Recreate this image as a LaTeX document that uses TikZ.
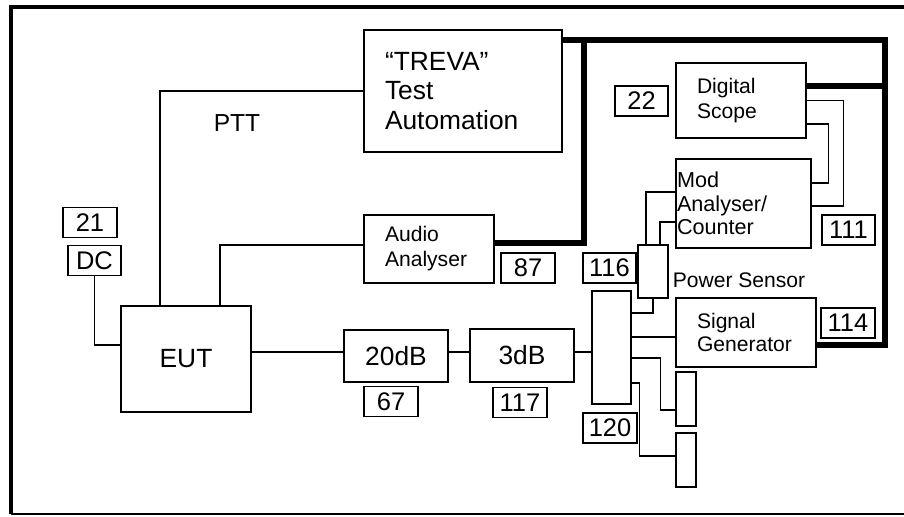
\documentclass[tikz,border=0pt]{standalone}
\usepackage{fontspec}
\setmainfont{Liberation Sans}
\begin{document}
\begin{tikzpicture}[line width=0.8pt,
  box/.style={draw,rectangle,inner sep=0pt},
  txtbox/.style={draw,rectangle,align=left,inner ysep=0pt,inner xsep=0.42cm},
  tag/.style={draw,rectangle,inner sep=0pt,minimum width=1.08cm,minimum height=0.6cm,font=\fontsize{14.5}{16}\selectfont},
  bus/.style={line width=3.2pt,line join=miter}]
  \useasboundingbox (0,0) rectangle (18.08,10.32);
  \draw[line width=2pt,line join=miter] (0.22,0.04) -- (0.22,10.18) -- (18.08,10.18);
  \draw (0.22,0.04) -- (18.08,0.04);

  \node[txtbox,text width=3.12cm,minimum height=2.44cm,font=\fontsize{15}{16.7}\selectfont] (treva) at (9.26,8.50) {“TREVA”\\Test\\Automation};
  \node[txtbox,text width=1.76cm,minimum height=1.36cm,font=\fontsize{12}{14.2}\selectfont] (audio) at (8.58,5.34) {Audio\\Analyser};
  \node[tag] (tag87) at (10.56,4.96) {87};
  \node[font=\fontsize{14}{16}\selectfont] (ptt) at (4.74,7.86) {PTT};

  \node[box,minimum width=2.6cm,minimum height=2.12cm,font=\fontsize{15}{17}\selectfont] (eut) at (3.72,3.14) {EUT};
  \node[tag] (tag21) at (1.80,5.87) {21};
  \node[tag,minimum width=1.06cm] (dc) at (1.89,5.11) {DC};

  \node[box,minimum width=2.08cm,minimum height=1.04cm,font=\fontsize{15}{17}\selectfont] (att20) at (7.92,3.20) {20dB};
  \node[tag] (tag67) at (7.82,2.29) {67};
  \node[box,minimum width=2.08cm,minimum height=1.06cm,font=\fontsize{15}{17}\selectfont] (att3) at (10.44,3.21) {3dB};
  \node[tag] (tag117) at (10.40,2.27) {117};

  \node[box,minimum width=0.78cm,minimum height=2.26cm] (split) at (12.23,3.37) {};
  \node[tag] (tag120) at (12.20,1.76) {120};
  \node[box,minimum width=0.6cm,minimum height=1.06cm] (sensor) at (13.06,4.89) {};
  \node[tag,minimum width=1.06cm] (tag116) at (12.19,4.96) {116};
  \node[font=\fontsize{12}{14}\selectfont] (pslabel) at (14.78,4.72) {Power Sensor};
  \node[box,minimum width=0.4cm,minimum height=1.08cm] (loadA) at (13.72,2.34) {};
  \node[box,minimum width=0.4cm,minimum height=1.08cm] (loadB) at (13.72,1.12) {};

  \node[txtbox,text width=1.96cm,minimum height=1.38cm,font=\fontsize{12}{13.6}\selectfont] (siggen) at (14.92,3.67) {Signal\\Generator};
  \node[tag] (tag114) at (16.96,3.86) {114};
  \node[txtbox,text width=1.76cm,minimum height=1.5cm,font=\fontsize{12}{14.2}\selectfont] (scope) at (14.82,8.31) {Digital\\Scope};
  \node[tag,minimum width=1.06cm] (tag22) at (12.83,8.30) {22};
  \node[txtbox,inner xsep=0.02cm,text width=2.66cm,minimum height=1.78cm,font=\fontsize{12.3}{13.3}\selectfont] (modan) at (14.87,6.25) {Mod\\Analyser/\\Counter};
  \node[tag,minimum width=1.06cm] (tag111) at (16.97,5.72) {111};

  \coordinate (busW) at (11.68,9.52);
  \coordinate (busE) at (17.70,9.52);
  \draw[bus] ([yshift=1.2mm]audio.east) -| (busW);
  \draw[bus] (busW -| treva.east) -- (busE) |- ([yshift=-2.5mm]siggen.east);
  \draw[bus] ([yshift=2.9mm]scope.east) -- ([yshift=2.9mm]scope.east -| busE);

  \draw (treva.west) -| ([xshift=-5.2mm]eut.north);
  \draw ([yshift=0.8mm]audio.west) -| ([xshift=6.8mm]eut.north);
  \draw (dc.south) |- ([yshift=2.8mm]eut.west);
  \draw ([yshift=0.8mm]att20.west) -- ([yshift=0.8mm]att20.west -| eut.east);
  \draw ([yshift=0.8mm]att20.east) -- ([yshift=0.8mm]att20.east -| att3.west);
  \draw ([yshift=0.7mm]att3.east) -- ([yshift=0.7mm]att3.east -| split.west);
  \draw ([yshift=6.9mm]split.east) -| (sensor.south);
  \draw ([yshift=-0.9mm]siggen.west) -- ([yshift=-0.9mm]siggen.west -| split.east);
  \draw ([yshift=-2.1mm]split.east) -- ++(0.58,0) |- ([yshift=-2.2mm]loadA.west);
  \draw ([yshift=-7.1mm]split.east) -- ++(0.16,0) |- ([yshift=0.8mm]loadB.west);
  \draw ([xshift=-1.4mm]sensor.north) |- ([yshift=2.3mm]modan.west);
  \draw ([xshift=1.4mm]sensor.north) |- ([yshift=-3.7mm]modan.west);
  \draw (scope.east) -- ++(0.74,0) |- ([yshift=-0.5mm]modan.east);
  \draw ([yshift=-4.7mm]scope.east) -- ++(0.44,0) |- ([yshift=4.1mm]modan.east);
\end{tikzpicture}
\end{document}
